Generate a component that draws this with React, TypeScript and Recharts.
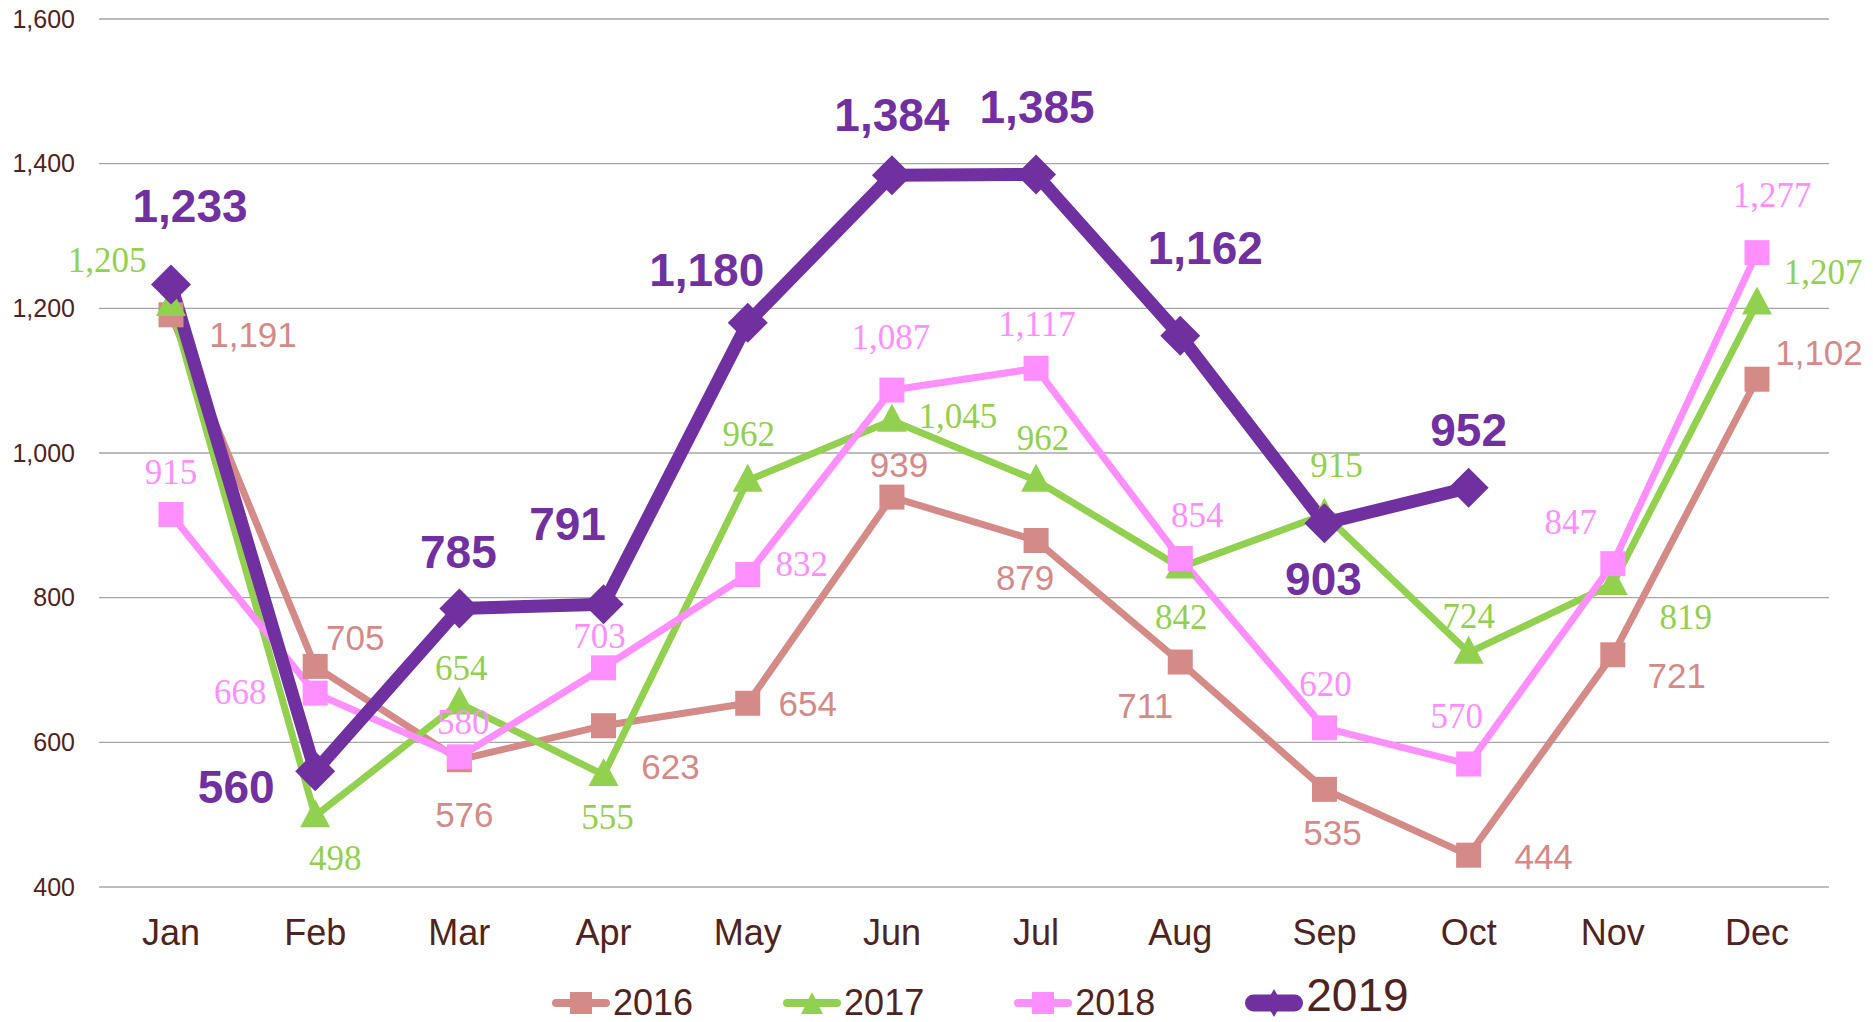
import React from "react";
import { LineChart, Line, XAxis, YAxis, CartesianGrid } from "recharts";

const months = ["Jan", "Feb", "Mar", "Apr", "May", "Jun", "Jul", "Aug", "Sep", "Oct", "Nov", "Dec"];
const yTicks = [400, 600, 800, 1000, 1200, 1400, 1600];

const s2016 = [1191, 705, 576, 623, 654, 939, 879, 711, 535, 444, 721, 1102];
const s2017 = [1205, 498, 654, 555, 962, 1045, 962, 842, 915, 724, 819, 1207];
const s2018 = [915, 668, 580, 703, 832, 1087, 1117, 854, 620, 570, 847, 1277];
const s2019 = [1233, 560, 785, 791, 1180, 1384, 1385, 1162, 903, 952, null, null];

// label placement (dx, dy from the point), kept apart from the values
const off2016 = [[82, 20], [40, -29], [5, 55], [67, 41], [60, 0], [7, -32], [-11, 37], [-35, 44], [8, 43], [75, 2], [64, 21], [62, -26]];
const off2017 = [[-64, -45], [20, 42], [2, -36], [4, 42], [1, -47], [66, -5], [7, -43], [1, 49], [12, -50], [0, -37], [73, 33], [66, -32]];
const off2018 = [[0, -43], [-75, -1], [4, -35], [-4, -32], [54, -11], [-1, -53], [1, -45], [17, -44], [1, -44], [-12, -48], [-42, -42], [15, -58]];
const off2019 = [[19, -79], [-79, 16], [-1, -57], [-36, -80], [-41, -53], [0, -60], [1, -68], [25, -88], [-1, 56], [0, -58]];

const C2016 = "#D48A86";
const C2017 = "#92D050";
const C2018 = "#FF8FFF";
const C2019 = "#7030A0";
const TEXT = "#4F2320";
const SANS = "'Liberation Sans', Arial, sans-serif";
const SERIF = "'Liberation Serif', 'Times New Roman', serif";

const rows = months.map((m, i) => ({
  month: m,
  y2016: s2016[i],
  y2017: s2017[i],
  y2018: s2018[i],
  y2019: s2019[i],
}));

const fmt = (v: number) => v.toLocaleString("en-US");

function makeLabel(offsets: number[][], color: string, font: string, size: number, bold = false) {
  return (p: any) => {
    if (p.value == null || p.x == null) return <g />;
    const o = offsets[p.index] || [0, -30];
    return (
      <text
        x={p.x + o[0]}
        y={p.y + o[1]}
        dy="0.35em"
        textAnchor="middle"
        fill={color}
        fontFamily={font}
        fontSize={size}
        fontWeight={bold ? 700 : 400}
      >
        {fmt(p.value)}
      </text>
    );
  };
}

function square(color: string, size: number) {
  return (p: any) => {
    if (p.cy == null || p.value == null) return <g key={p.key} />;
    return <rect key={p.key} x={p.cx - size / 2} y={p.cy - size / 2} width={size} height={size} fill={color} />;
  };
}

function triangle(color: string, w: number, h: number) {
  return (p: any) => {
    if (p.cy == null || p.value == null) return <g key={p.key} />;
    const { cx, cy } = p;
    return (
      <polygon
        key={p.key}
        points={`${cx},${cy - h * 0.6} ${cx + w / 2},${cy + h * 0.4} ${cx - w / 2},${cy + h * 0.4}`}
        fill={color}
      />
    );
  };
}

function diamond(color: string, r: number) {
  return (p: any) => {
    if (p.cy == null || p.value == null) return <g key={p.key} />;
    const { cx, cy } = p;
    return (
      <polygon key={p.key} points={`${cx},${cy - r} ${cx + r},${cy} ${cx},${cy + r} ${cx - r},${cy}`} fill={color} />
    );
  };
}

const MonthTick = ({ x, y, payload }: any) => (
  <text x={x} y={y + 58} textAnchor="middle" fill={TEXT} fontFamily={SANS} fontSize={36}>
    {payload.value}
  </text>
);

const ValueTick = ({ x, y, payload }: any) => (
  <text x={x - 24} y={y} dy="0.35em" textAnchor="end" fill={TEXT} fontFamily={SANS} fontSize={25}>
    {fmt(payload.value)}
  </text>
);

const legendItems = [
  { name: "2016", color: C2016, shape: "square", lw: 8, fs: 36, shift: 0 },
  { name: "2017", color: C2017, shape: "triangle", lw: 8, fs: 36, shift: 0 },
  { name: "2018", color: C2018, shape: "square", lw: 8, fs: 36, shift: 0 },
  { name: "2019", color: C2019, shape: "diamond", lw: 17, fs: 46, shift: -8 },
];

function LegendIcon({ color, shape, lw }: { color: string; shape: string; lw: number }) {
  return (
    <svg width={62} height={40} style={{ display: "block" }}>
      <line x1={lw / 2 + 2} y1={20} x2={60 - lw / 2} y2={20} stroke={color} strokeWidth={lw} strokeLinecap="round" />
      {shape === "square" && <rect x={20} y={9} width={22} height={22} fill={color} />}
      {shape === "triangle" && <polygon points="31,9 42,31 20,31" fill={color} />}
      {shape === "diamond" && <polygon points="31,6 39,20 31,34 23,20" fill={color} />}
    </svg>
  );
}

export default function App() {
  return (
    <div style={{ position: "absolute", left: 0, top: 0, width: 1873, height: 1022, background: "#fff" }}>
      <LineChart width={1873} height={1022} data={rows} margin={{ top: 19, right: 44, left: 0, bottom: 75 }}>
        <CartesianGrid vertical={false} stroke="#A6A6A6" strokeWidth={1.3} />
        <XAxis
          dataKey="month"
          axisLine={false}
          tickLine={false}
          tickSize={0}
          tickMargin={0}
          height={60}
          padding={{ left: 72, right: 72 }}
          tick={<MonthTick />}
          interval={0}
        />
        <YAxis
          domain={[400, 1600]}
          ticks={yTicks}
          axisLine={false}
          tickLine={false}
          tickSize={0}
          tickMargin={0}
          width={99}
          tick={<ValueTick />}
          interval={0}
        />
        <Line
          dataKey="y2016"
          stroke={C2016}
          strokeWidth={7}
          dot={square(C2016, 25)}
          activeDot={false}
          label={makeLabel(off2016, C2016, SANS, 35)}
          isAnimationActive={false}
        />
        <Line
          dataKey="y2017"
          stroke={C2017}
          strokeWidth={7}
          dot={triangle(C2017, 30, 28)}
          activeDot={false}
          label={makeLabel(off2017, C2017, SERIF, 35)}
          isAnimationActive={false}
        />
        <Line
          dataKey="y2018"
          stroke={C2018}
          strokeWidth={7}
          dot={square(C2018, 25)}
          activeDot={false}
          label={makeLabel(off2018, C2018, SERIF, 35)}
          isAnimationActive={false}
        />
        <Line
          dataKey="y2019"
          stroke={C2019}
          strokeWidth={13}
          strokeLinejoin="round"
          dot={diamond(C2019, 20)}
          activeDot={false}
          label={makeLabel(off2019, C2019, SANS, 46, true)}
          isAnimationActive={false}
        />
      </LineChart>
      <div
        style={{
          position: "absolute",
          left: 550,
          top: 983,
          display: "flex",
          alignItems: "center",
          gap: 88,
          fontFamily: SANS,
          color: TEXT,
        }}
      >
        {legendItems.map((it) => (
          <div key={it.name} style={{ display: "flex", alignItems: "center", gap: 0 }}>
            <LegendIcon color={it.color} shape={it.shape} lw={it.lw} />
            <span
              style={{
                fontSize: it.fs,
                lineHeight: "40px",
                marginLeft: 1,
                position: "relative",
                top: it.shift,
              }}
            >
              {it.name}
            </span>
          </div>
        ))}
      </div>
    </div>
  );
}
